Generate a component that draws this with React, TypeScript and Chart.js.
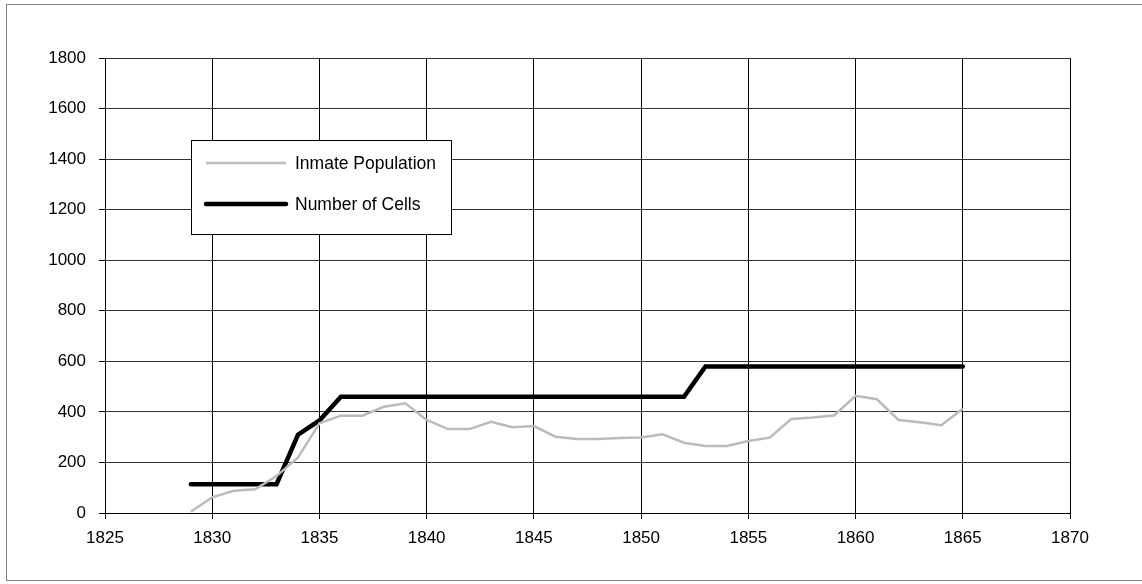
import React, { useEffect, useRef } from "react";
import { Chart, registerables } from "chart.js";

Chart.register(...registerables);

const years: number[] = [
  1829, 1830, 1831, 1832, 1833, 1834, 1835, 1836, 1837, 1838, 1839, 1840, 1841,
  1842, 1843, 1844, 1845, 1846, 1847, 1848, 1849, 1850, 1851, 1852, 1853, 1854,
  1855, 1856, 1857, 1858, 1859, 1860, 1861, 1862, 1863, 1864, 1865,
];

const inmatePopulation: number[] = [
  5, 62, 88, 94, 146, 220, 355, 385, 385, 420, 434, 368, 332,
  332, 361, 339, 344, 302, 293, 293, 297, 299, 311, 278, 265, 265,
  285, 298, 372, 378, 386, 464, 450, 368, 359, 347, 412,
];

const numberOfCells: number[] = [
  114, 114, 114, 114, 114, 310, 366, 460, 460, 460, 460, 460, 460,
  460, 460, 460, 460, 460, 460, 460, 460, 460, 460, 460, 580, 580,
  580, 580, 580, 580, 580, 580, 580, 580, 580, 580, 580,
];

const seriesLabels: string[] = ["Inmate Population", "Number of Cells"];

const xMin = 1825;
const xMax = 1870;
const xStep = 5;
const yMin = 0;
const yMax = 1800;
const yStep = 200;

const FONT = "'Liberation Sans', Arial, sans-serif";
const FONT_SIZE = 17;
const LEGEND_FONT_SIZE = 17.5;

const legendPlugin = {
  id: "boxLegend",
  afterDatasetsDraw(chart: any) {
    const ctx = chart.ctx as CanvasRenderingContext2D;
    const x0 = 191.5;
    const y0 = 140.5;
    const w = 260;
    const h = 94;
    ctx.save();
    ctx.fillStyle = "#ffffff";
    ctx.fillRect(x0, y0, w, h);
    ctx.strokeStyle = "#000000";
    ctx.lineWidth = 1;
    ctx.strokeRect(x0, y0, w, h);
    const rows = [163, 204];
    chart.data.datasets.forEach((ds: any, i: number) => {
      const y = rows[i];
      ctx.beginPath();
      ctx.strokeStyle = ds.borderColor;
      ctx.lineWidth = ds.borderWidth;
      ctx.lineCap = i === 1 ? "round" : "butt";
      ctx.moveTo(206, y);
      ctx.lineTo(286, y);
      ctx.stroke();
      ctx.fillStyle = "#000000";
      ctx.font = `${LEGEND_FONT_SIZE}px ${FONT}`;
      ctx.textBaseline = "middle";
      ctx.textAlign = "left";
      ctx.fillText(ds.label, 295, y + 1);
    });
    ctx.restore();
  },
};

export default function App() {
  const canvasRef = useRef<HTMLCanvasElement | null>(null);

  useEffect(() => {
    if (!canvasRef.current) return;
    const chart = new Chart(canvasRef.current, {
      type: "line",
      data: {
        datasets: [
          {
            label: seriesLabels[0],
            data: years.map((x, i) => ({ x, y: inmatePopulation[i] })),
            borderColor: "#bbbbbb",
            borderWidth: 2.5,
            pointRadius: 0,
            tension: 0,
            fill: false,
          },
          {
            label: seriesLabels[1],
            data: years.map((x, i) => ({ x, y: numberOfCells[i] })),
            borderColor: "#000000",
            borderWidth: 4.5,
            borderCapStyle: "round",
            borderJoinStyle: "miter",
            pointRadius: 0,
            tension: 0,
            fill: false,
          },
        ],
      },
      options: {
        animation: false,
        responsive: false,
        maintainAspectRatio: false,
        devicePixelRatio: 1,
        layout: { padding: { left: 0, top: 58, right: 72, bottom: 0 } },
        plugins: {
          legend: { display: false },
          tooltip: { enabled: false },
          title: { display: false },
        },
        scales: {
          x: {
            type: "linear",
            min: xMin,
            max: xMax,
            afterFit: (s: any) => {
              s.height = 71;
            },
            ticks: {
              stepSize: xStep,
              color: "#000",
              font: { family: FONT, size: FONT_SIZE },
              padding: 9,
              maxRotation: 0,
              callback: (v: any) => String(v),
            },
            grid: {
              color: "#000000",
              lineWidth: 1,
              tickLength: 6,
              tickColor: "#000000",
            },
            border: { color: "#000000", width: 1 },
          },
          y: {
            type: "linear",
            min: yMin,
            max: yMax,
            afterFit: (s: any) => {
              s.width = 105;
            },
            ticks: {
              stepSize: yStep,
              color: "#000",
              font: { family: FONT, size: FONT_SIZE },
              padding: 13,
              callback: (v: any) => String(v),
            },
            grid: {
              color: "#333333",
              lineWidth: 1,
              tickLength: 6,
              tickColor: "#000000",
            },
            border: { color: "#000000", width: 1 },
          },
        },
      },
      plugins: [legendPlugin],
    });
    return () => chart.destroy();
  }, []);

  return (
    <div
      style={{
        position: "fixed",
        left: 0,
        top: 0,
        width: 1142,
        height: 584,
        background: "#fff",
      }}
    >
      <div
        style={{
          position: "absolute",
          left: 6,
          top: 4,
          width: 1150,
          height: 577,
          border: "1px solid #808080",
          boxSizing: "border-box",
        }}
      />
      <canvas
        ref={canvasRef}
        width={1142}
        height={584}
        style={{ position: "absolute", left: 0, top: 0, width: 1142, height: 584 }}
      />
    </div>
  );
}
